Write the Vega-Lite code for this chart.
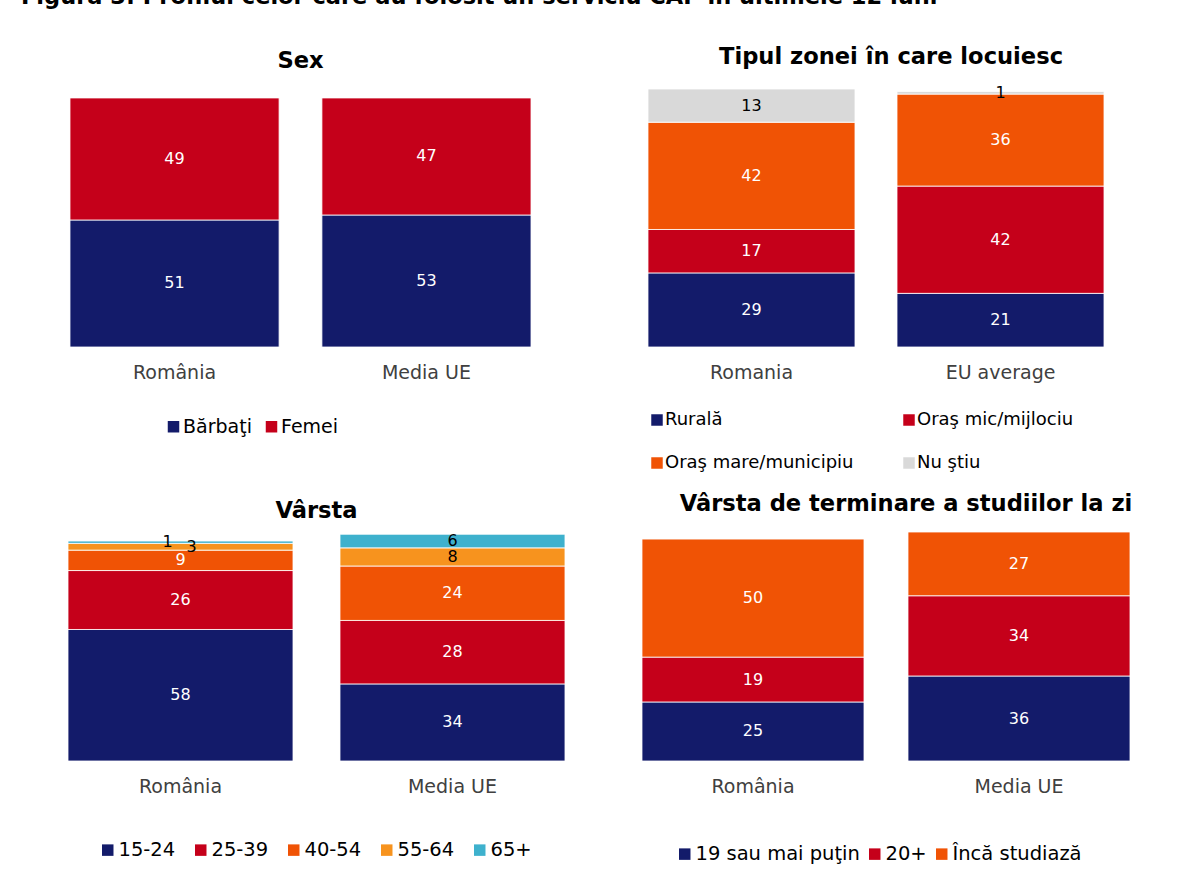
{
  "$schema": "https://vega.github.io/schema/vega-lite/v6.json",
  "padding": {"left": 21, "top": -15, "right": 0, "bottom": 0},
  "title": {"text": "Figura 3: Profilul celor care au folosit un serviciu CAP în ultimele 12 luni", "anchor": "start", "dx": -24, "fontSize": 22.5, "fontWeight": "bold", "color": "#000000", "offset": 38},
  "config": {
    "font": "DejaVu Sans",
    "view": {"stroke": null},
    "title": {"fontSize": 22.6, "fontWeight": "bold", "color": "#000000", "anchor": "middle", "frame": "group"},
    "axis": {"domain": false, "ticks": false, "grid": false, "labelFontSize": 19, "labelColor": "#404040", "labelPadding": 16, "labelAngle": 0, "title": null},
    "legend": {"orient": "none", "direction": "horizontal", "title": null, "symbolType": "square", "symbolSize": 132, "symbolStrokeWidth": 0, "labelColor": "#000000", "labelOffset": 0, "labelLimit": 400, "padding": 0}
  },
  "datasets": {
    "sex": [
      {"tara": "România", "categorie": "Bărbaţi", "ord": 1, "valoare": 51},
      {"tara": "România", "categorie": "Femei", "ord": 2, "valoare": 49},
      {"tara": "Media UE", "categorie": "Bărbaţi", "ord": 1, "valoare": 53},
      {"tara": "Media UE", "categorie": "Femei", "ord": 2, "valoare": 47}
    ],
    "zona": [
      {"tara": "Romania", "categorie": "Rurală", "ord": 1, "valoare": 29},
      {"tara": "Romania", "categorie": "Oraş mic/mijlociu", "ord": 2, "valoare": 17},
      {"tara": "Romania", "categorie": "Oraş mare/municipiu", "ord": 3, "valoare": 42},
      {"tara": "Romania", "categorie": "Nu ştiu", "ord": 4, "valoare": 13},
      {"tara": "EU average", "categorie": "Rurală", "ord": 1, "valoare": 21},
      {"tara": "EU average", "categorie": "Oraş mic/mijlociu", "ord": 2, "valoare": 42},
      {"tara": "EU average", "categorie": "Oraş mare/municipiu", "ord": 3, "valoare": 36},
      {"tara": "EU average", "categorie": "Nu ştiu", "ord": 4, "valoare": 1}
    ],
    "varsta": [
      {"tara": "România", "categorie": "15-24", "ord": 1, "valoare": 58},
      {"tara": "România", "categorie": "25-39", "ord": 2, "valoare": 26},
      {"tara": "România", "categorie": "40-54", "ord": 3, "valoare": 9},
      {"tara": "România", "categorie": "55-64", "ord": 4, "valoare": 3},
      {"tara": "România", "categorie": "65+", "ord": 5, "valoare": 1},
      {"tara": "Media UE", "categorie": "15-24", "ord": 1, "valoare": 34},
      {"tara": "Media UE", "categorie": "25-39", "ord": 2, "valoare": 28},
      {"tara": "Media UE", "categorie": "40-54", "ord": 3, "valoare": 24},
      {"tara": "Media UE", "categorie": "55-64", "ord": 4, "valoare": 8},
      {"tara": "Media UE", "categorie": "65+", "ord": 5, "valoare": 6}
    ],
    "studii": [
      {"tara": "România", "categorie": "19 sau mai puţin", "ord": 1, "valoare": 25},
      {"tara": "România", "categorie": "20+", "ord": 2, "valoare": 19},
      {"tara": "România", "categorie": "Încă studiază", "ord": 3, "valoare": 50},
      {"tara": "Media UE", "categorie": "19 sau mai puţin", "ord": 1, "valoare": 36},
      {"tara": "Media UE", "categorie": "20+", "ord": 2, "valoare": 34},
      {"tara": "Media UE", "categorie": "Încă studiază", "ord": 3, "valoare": 27}
    ]
  },
  "resolve": {"scale": {"color": "independent", "x": "independent", "y": "independent"}, "legend": {"color": "independent"}},
  "spacing": 21,
  "vconcat": [
    {
      "spacing": 71,
      "resolve": {"scale": {"color": "independent", "x": "independent", "y": "independent"}, "legend": {"color": "independent"}},
      "hconcat": [
        {
          "width": 511, "height": 258,
          "title": {"text": "Sex", "offset": 16},
          "data": {"name": "sex"},
          "transform": [
            {"stack": "valoare", "groupby": ["tara"], "sort": [{"field": "ord", "order": "ascending"}], "as": ["v0", "v1"]},
            {"calculate": "(datum.v0 + datum.v1) / 2", "as": "mid"}
          ],
          "encoding": {
            "x": {"field": "tara", "type": "nominal", "sort": ["România", "Media UE"], "scale": {"paddingInner": 0.17, "paddingOuter": 0.0992}}
          },
          "layer": [
            {
              "mark": {"type": "bar", "stroke": "#ffffff", "strokeWidth": 0.8},
              "encoding": {
                "y": {"field": "v0", "type": "quantitative", "scale": {"domain": [0, 103.6], "nice": false}, "axis": null},
                "y2": {"field": "v1"},
                "color": {"field": "categorie", "type": "nominal", "sort": null,
                  "scale": {"domain": ["Bărbaţi", "Femei"], "range": ["#131B6A", "#C5001A"]},
                  "legend": {"legendX": 119, "legendY": 328, "labelFontSize": 19, "columnPadding": 10, "labelOffset": 0}}
              }
            },
            {
              "mark": {"type": "text", "fontSize": 16, "color": "#ffffff"},
              "encoding": {
                "y": {"field": "mid", "type": "quantitative"},
                "text": {"field": "valoare", "type": "quantitative"}
              }
            }
          ]
        },
        {
          "width": 498, "height": 258,
          "title": {"text": "Tipul zonei în care locuiesc", "offset": 16, "dx": 15},
          "data": {"name": "zona"},
          "transform": [
            {"stack": "valoare", "groupby": ["tara"], "sort": [{"field": "ord", "order": "ascending"}], "as": ["v0", "v1"]},
            {"calculate": "(datum.v0 + datum.v1) / 2", "as": "mid"}
          ],
          "encoding": {
            "x": {"field": "tara", "type": "nominal", "sort": ["Romania", "EU average"], "scale": {"paddingInner": 0.1687, "paddingOuter": 0.0843}}
          },
          "layer": [
            {
              "mark": {"type": "bar", "stroke": "#ffffff", "strokeWidth": 0.8},
              "encoding": {
                "y": {"field": "v0", "type": "quantitative", "scale": {"domain": [0, 101], "nice": false}, "axis": null},
                "y2": {"field": "v1"},
                "color": {"field": "categorie", "type": "nominal", "sort": null,
                  "scale": {"domain": ["Rurală", "Oraş mic/mijlociu", "Oraş mare/municipiu", "Nu ştiu"], "range": ["#131B6A", "#C5001A", "#F05305", "#D9D9D9"]},
                  "legend": {"legendX": 21, "legendY": 322, "labelFontSize": 18, "columns": 2, "columnPadding": 46, "rowPadding": 25, "labelOffset": -1}}
              }
            },
            {
              "mark": {"type": "text", "fontSize": 16},
              "encoding": {
                "y": {"field": "mid", "type": "quantitative"},
                "text": {"field": "valoare", "type": "quantitative"},
                "color": {"condition": {"test": "datum.categorie === 'Nu ştiu'", "value": "#000000"}, "value": "#ffffff"}
              }
            }
          ]
        }
      ]
    },
    {
      "spacing": 32,
      "resolve": {"scale": {"color": "independent", "x": "independent", "y": "independent"}, "legend": {"color": "independent"}},
      "hconcat": [
        {
          "width": 543, "height": 229,
          "title": {"text": ["", "Vârsta"], "offset": 9, "lineHeight": 7},
          "data": {"name": "varsta"},
          "transform": [
            {"stack": "valoare", "groupby": ["tara"], "sort": [{"field": "ord", "order": "ascending"}], "as": ["v0", "v1"]},
            {"calculate": "(datum.v0 + datum.v1) / 2", "as": "mid"}
          ],
          "encoding": {
            "x": {"field": "tara", "type": "nominal", "sort": ["România", "Media UE"], "scale": {"paddingInner": 0.1728, "paddingOuter": 0.0846}}
          },
          "layer": [
            {
              "mark": {"type": "bar", "stroke": "#ffffff", "strokeWidth": 0.8},
              "encoding": {
                "y": {"field": "v0", "type": "quantitative", "scale": {"domain": [0, 101], "nice": false}, "axis": null},
                "y2": {"field": "v1"},
                "color": {"field": "categorie", "type": "nominal", "sort": null,
                  "scale": {"domain": ["15-24", "25-39", "40-54", "55-64", "65+"], "range": ["#131B6A", "#C5001A", "#F05305", "#F7931E", "#3EB1CD"]},
                  "legend": {"legendX": 53, "legendY": 308, "labelFontSize": 19.5, "columnPadding": 15, "labelOffset": 1}}
              }
            },
            {
              "transform": [{"filter": "!(datum.tara === 'România' && (datum.categorie === '55-64' || datum.categorie === '65+'))"}],
              "mark": {"type": "text", "fontSize": 16},
              "encoding": {
                "y": {"field": "mid", "type": "quantitative"},
                "text": {"field": "valoare", "type": "quantitative"},
                "color": {"condition": {"test": "datum.categorie === '55-64' || datum.categorie === '65+'", "value": "#000000"}, "value": "#ffffff"}
              }
            },
            {
              "transform": [{"filter": "datum.tara === 'România' && datum.categorie === '65+'"}],
              "mark": {"type": "text", "fontSize": 16, "color": "#000000", "dx": -13},
              "encoding": {
                "y": {"field": "mid", "type": "quantitative"},
                "text": {"field": "valoare", "type": "quantitative"}
              }
            },
            {
              "transform": [{"filter": "datum.tara === 'România' && datum.categorie === '55-64'"}],
              "mark": {"type": "text", "fontSize": 16, "color": "#000000", "dx": 11},
              "encoding": {
                "y": {"field": "mid", "type": "quantitative"},
                "text": {"field": "valoare", "type": "quantitative"}
              }
            }
          ]
        },
        {
          "width": 532, "height": 229,
          "title": {"text": "Vârsta de terminare a studiilor la zi", "offset": 16, "dx": 20},
          "data": {"name": "studii"},
          "transform": [
            {"stack": "valoare", "groupby": ["tara"], "sort": [{"field": "ord", "order": "ascending"}], "as": ["v0", "v1"]},
            {"calculate": "(datum.v0 + datum.v1) / 2", "as": "mid"}
          ],
          "encoding": {
            "x": {"field": "tara", "type": "nominal", "sort": ["România", "Media UE"], "scale": {"paddingInner": 0.1654, "paddingOuter": 0.0827}}
          },
          "layer": [
            {
              "mark": {"type": "bar", "stroke": "#ffffff", "strokeWidth": 0.8},
              "encoding": {
                "y": {"field": "v0", "type": "quantitative", "scale": {"domain": [0, 97], "nice": false}, "axis": null},
                "y2": {"field": "v1"},
                "color": {"field": "categorie", "type": "nominal", "sort": null,
                  "scale": {"domain": ["19 sau mai puţin", "20+", "Încă studiază"], "range": ["#131B6A", "#C5001A", "#F05305"]},
                  "legend": {"legendX": 55, "legendY": 312, "labelFontSize": 19.5, "columnPadding": 5, "labelOffset": 1}}
              }
            },
            {
              "mark": {"type": "text", "fontSize": 16, "color": "#ffffff"},
              "encoding": {
                "y": {"field": "mid", "type": "quantitative"},
                "text": {"field": "valoare", "type": "quantitative"}
              }
            }
          ]
        }
      ]
    }
  ]
}
